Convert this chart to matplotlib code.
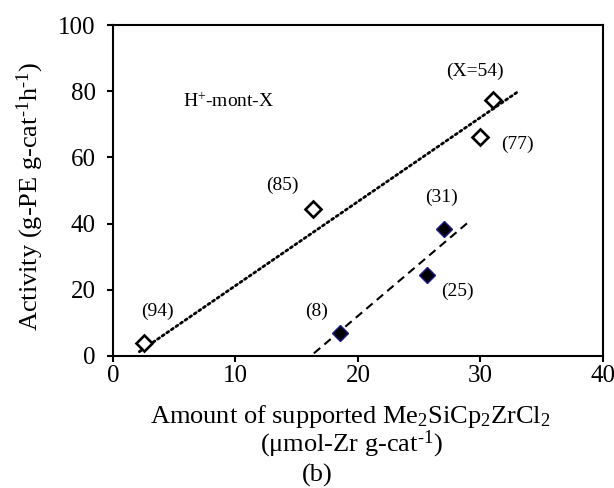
import matplotlib
matplotlib.use("Agg")
from matplotlib import pyplot as plt

plt.rcParams['font.family'] = ['Liberation Serif', 'DejaVu Serif']
plt.rcParams['mathtext.fontset'] = 'custom'
plt.rcParams['mathtext.rm'] = 'Liberation Serif'
plt.rcParams['mathtext.it'] = 'Liberation Serif:italic'
plt.rcParams['mathtext.bf'] = 'Liberation Serif:bold'

# data
open_x = [2.5, 16.3, 30.0, 31.0]
open_y = [3.8, 44.4, 66.1, 77.3]
open_labels = ["(94)", "(85)", "(77)", "(X=54)"]

filled_x = [18.5, 25.6, 27.0]
filled_y = [6.9, 24.5, 38.5]
filled_labels = ["(8)", "(25)", "(31)"]

# trend lines (end points)
dotted_x = [2.15, 32.95]
dotted_y = [1.3, 79.6]
dashed_x = [16.4, 29.0]
dashed_y = [0.8, 40.4]

# where the labels sit
open_label_pos = [(3.6, 13.4), (13.8, 51.5), (33.0, 63.9), (29.55, 85.9)]
filled_label_pos = [(16.6, 13.4), (28.1, 19.5), (26.8, 47.9)]

fig = plt.figure(figsize=(6.14, 4.88), dpi=100)
ax = fig.add_axes([0.184, 0.2705, 0.798, 0.678])

ax.plot(dotted_x, dotted_y, color='black', lw=2.0, ls=(0, (0.8, 1.2)),
        dash_capstyle='round')
ax.plot(dashed_x, dashed_y, color='black', lw=1.5, ls=(0, (4.0, 2.6)))

ax.plot(open_x, open_y, ls='none', marker='D', ms=8, mfc='white',
        mec='black', mew=1.9)
ax.plot(filled_x, filled_y, ls='none', marker='D', ms=8.5, mfc='black',
        mec='#1c1c8c', mew=1.0)

for lab, (px, py) in zip(open_labels, open_label_pos):
    ax.text(px, py, lab, fontsize=14, ha='center', va='center')
for lab, (px, py) in zip(filled_labels, filled_label_pos):
    ax.text(px, py, lab, fontsize=14, ha='center', va='center')

ax.text(5.7, 77.0, r"H$^{+}$-mont-X", fontsize=14, ha='left', va='center')

ax.set_xlim(0, 40)
ax.set_ylim(0, 100)
ax.set_xticks([0, 10, 20, 30, 40])
ax.set_yticks([0, 20, 40, 60, 80, 100])
ax.tick_params(axis='both', direction='out', length=4.5, width=1.5,
               labelsize=18, top=False, right=False)
ax.tick_params(axis='x', pad=2)
ax.tick_params(axis='y', pad=8)
for sp in ax.spines.values():
    sp.set_linewidth(1.5)

fig.text(0.05, 0.598, r"Activity (g-PE g-cat$^{\text{-1}}$h$^{\text{-1}}$)",
         rotation=90, fontsize=19, ha='center', va='center')
fig.text(0.570, 0.133, r"Amount of supported Me$_2$SiCp$_2$ZrCl$_2$",
         fontsize=19, ha='center', va='baseline')
fig.text(0.573, 0.0758, r"(μmol-Zr g-cat$^{\text{-1}}$)",
         fontsize=19, ha='center', va='baseline')
fig.text(0.516, 0.014, "(b)", fontsize=19, ha='center', va='baseline')

fig.savefig("out.png", dpi=100)
